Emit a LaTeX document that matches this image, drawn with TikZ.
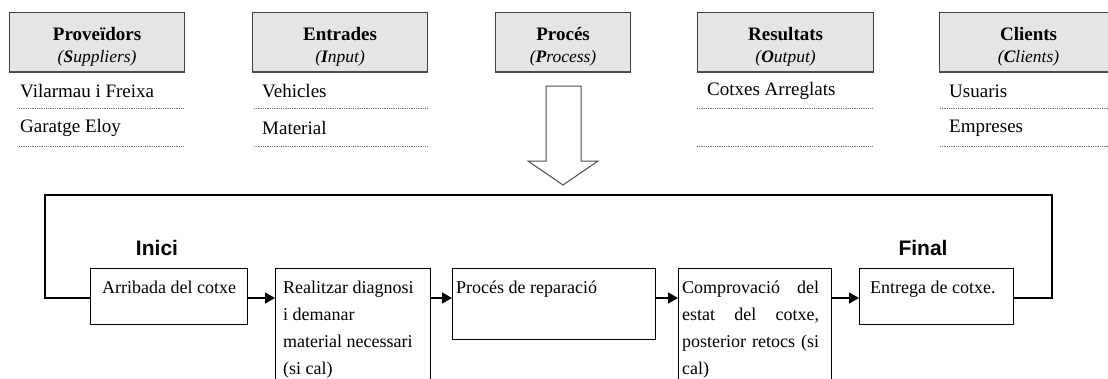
\documentclass[tikz,border=0pt]{standalone}
\usepackage{fontspec}
\setmainfont{Liberation Serif}
\newfontfamily\arialfont{Liberation Sans}
\usetikzlibrary{arrows.meta}
\tikzset{
	headbox/.style={draw=black!75, fill=black!10, line width=1.2pt, minimum height=59pt, inner sep=0pt, align=center, anchor=north west, font=\fontsize{19}{22}\selectfont},
	listitem/.style={anchor=west, inner sep=0pt, font=\fontsize{19}{22}\selectfont},
	sepline/.style={draw=black!55, line width=0.9pt, dash pattern=on 0.9pt off 0.9pt},
	stepbox/.style={draw, line width=1pt, anchor=north west, inner sep=0pt},
	steptext/.style={anchor=north west, inner sep=0pt, align=left, font=\fontsize{18}{27}\selectfont},
	flowarrow/.style={line width=1.3pt, -{Triangle[length=10pt,width=11pt]}},
	milestone/.style={font=\arialfont\bfseries\fontsize{21}{24}\selectfont}
}
\newcommand{\headtext}[2]{\rule{0pt}{23pt}\textbf{#1}\\{\fontsize{17.5}{22}\selectfont\itshape #2}}
\begin{document}
\begin{tikzpicture}[x=1pt, y=-1pt]
	\clip (0,0) rectangle (1108,378);
	\fill[white] (0,0) rectangle (1108,378);

	\node [headbox, minimum width=175pt] (sup) at (9,12) {\headtext{Proveïdors}{(\textbf{S}uppliers)}};
	\node [headbox, minimum width=175pt] (inp) at (252,12) {\headtext{Entrades}{(\textbf{I}nput)}};
	\node [headbox, minimum width=135pt] (pro) at (495,12) {\headtext{Procés}{(\textbf{P}rocess)}};
	\node [headbox, minimum width=176pt] (out) at (697,12) {\headtext{Resultats}{(\textbf{O}utput)}};
	\node [headbox, minimum width=178pt] (cli) at (939,12) {\headtext{Clients}{(\textbf{C}lients)}};
	\foreach \h in {sup,inp,pro,out,cli}
		\draw [black!70, line width=2pt] (\h.south west) -- (\h.south east);

	\node [listitem] (sup1) at (20,91) {Vilarmau i Freixa};
	\node [listitem] (sup2) at (20,128) {Garatge Eloy};
	\node [listitem] (inp1) at (262,91) {Vehicles};
	\node [listitem] (inp2) at (262,128) {Material};
	\node [listitem] (out1) at (707,91) {Cotxes Arreglats};
	\node [listitem] (cli1) at (949,91) {Usuaris};
	\node [listitem] (cli2) at (949,128) {Empreses};

	\foreach \y in {108,146} {
		\draw [sepline] (19,\y) -- (184,\y);
		\draw [sepline] (254,\y) -- (427,\y);
		\draw [sepline] (697,\y) -- (873,\y);
		\draw [sepline] (940,\y) -- (1108,\y);
	}

	\draw [black!70, line width=1pt, fill=white] (546,86) -- (581,86) -- (581,161) -- (598,161) -- (563,185) -- (528,161) -- (546,161) -- cycle;

	\node [stepbox, minimum width=157pt, minimum height=56pt] (arr) at (90,268) {};
	\node [stepbox, minimum width=155pt, minimum height=130pt] (diag) at (275,268) {};
	\node [stepbox, minimum width=203pt, minimum height=71pt] (rep) at (452,268) {};
	\node [stepbox, minimum width=153pt, minimum height=130pt] (comp) at (678,268) {};
	\node [stepbox, minimum width=154pt, minimum height=56pt] (ent) at (859,268) {};

	\node [steptext] (arrtxt) at (102,281) {Arribada del cotxe};
	\node [steptext] (diagtxt) at (283,281) {Realitzar diagnosi\\i demanar\\material necessari\\(si cal)};
	\node [steptext] (reptxt) at (456,281) {Procés de reparació};
	\node [steptext, text width=137pt, align=justify] (comptxt) at (682,281) {Comprovació del\linebreak estat del cotxe,\linebreak posterior retocs (si\linebreak cal)};
	\node [steptext] (enttxt) at (870,281) {Entrega de cotxe.};

	\node [milestone] (start) at (157,248) {Inici};
	\node [milestone] (finish) at (923,248) {Final};

	\draw [flowarrow] ([yshift=-30pt]arr.north east) -- ([yshift=-30pt]diag.north west);
	\draw [flowarrow] ([yshift=-30pt]diag.north east) -- ([yshift=-30pt]rep.north west);
	\draw [flowarrow] ([yshift=-30pt]rep.north east) -- ([yshift=-30pt]comp.north west);
	\draw [flowarrow] ([yshift=-30pt]comp.north east) -- ([yshift=-30pt]ent.north west);

	\coordinate (loopl) at (45,195);
	\coordinate (loopr) at (1052,195);
	\draw [line width=1.3pt] ([yshift=-30pt]arr.north west) -| (loopl) -- (loopr) |- ([yshift=-30pt]ent.north east);
\end{tikzpicture}
\end{document}
